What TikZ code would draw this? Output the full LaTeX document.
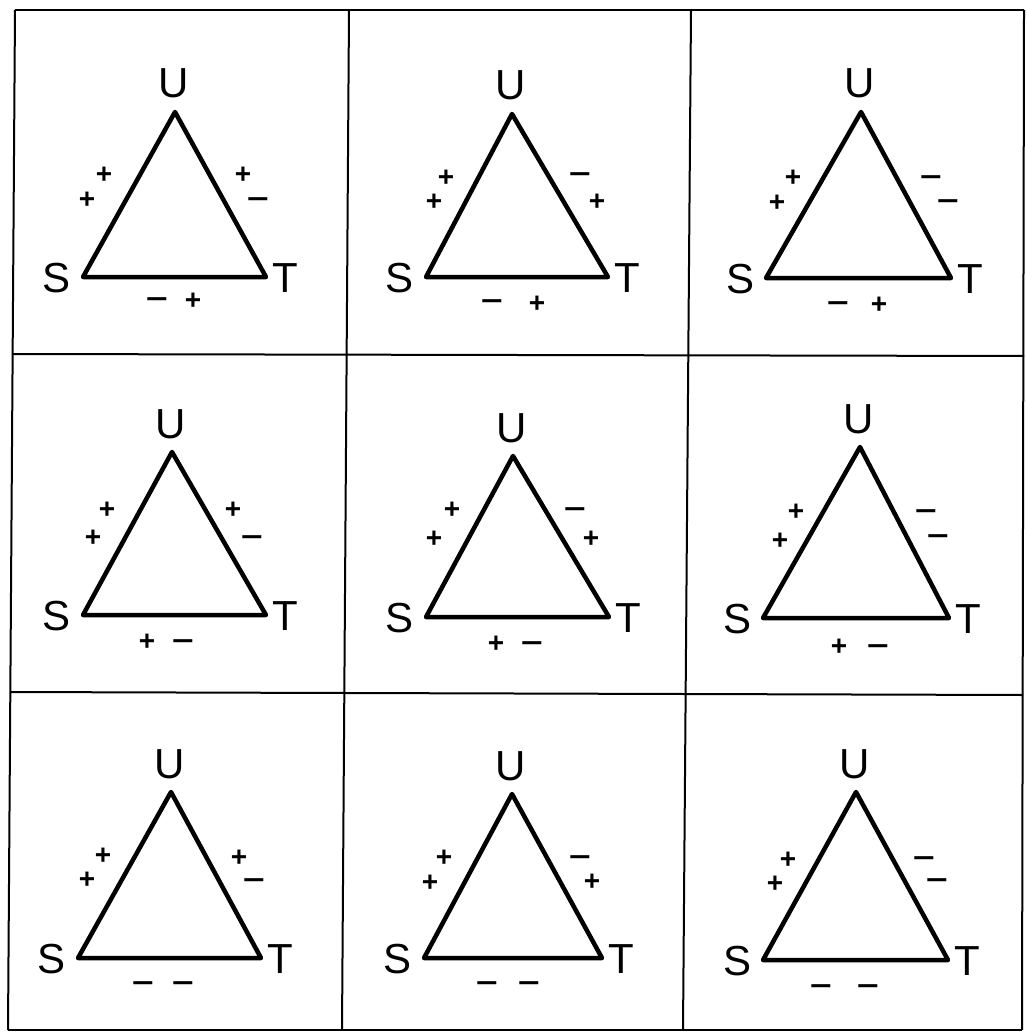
\documentclass[tikz,border=0pt]{standalone}
\usepackage{fontspec}
\setmainfont{Liberation Sans}
\usetikzlibrary{calc}
\newcommand\mns{\scalebox{1.35}[1]{−}}
\tikzset{
  grid/.style={line width=2pt, black},
  tri/.style={line width=4.5pt, line join=round, black},
  lab/.style={font=\fontsize{42}{42}\selectfont, inner sep=0pt, anchor=base, yshift=-15pt},
  sgn/.style={font=\fontsize{28}{28}\selectfont\bfseries, inner sep=0pt, anchor=base, yshift=-10pt}
}
\newcommand\tri[4]{%
  \coordinate (#1S) at #2;
  \coordinate (#1U) at #3;
  \coordinate (#1T) at #4;
  \draw[tri] (#1S) -- (#1U) -- (#1T) -- cycle;
  \node[lab] (#1ls) at ($(#1S)+(-26,0)$) {S};
  \node[lab] (#1lt) at ($(#1T)+(19,0)$) {T};
  \node[lab] (#1lu) at ($(#1U)+(-1,-29)$) {U};
}
\begin{document}
\begin{tikzpicture}[x=1pt,y=-1pt]
\useasboundingbox (0,0) rectangle (1026,1032);
\fill[white] (0,0) rectangle (1026,1032);
% grid
\draw[grid] (15,10) -- (1024,10);
\draw[grid] (13,354) -- (1024,356);
\draw[grid] (10,692) -- (1023,695);
\draw[grid] (8,1030) -- (1022,1030);
\draw[grid] (15,10) -- (8,1030);
\draw[grid] (349,10) -- (342,1030);
\draw[grid] (691,10) -- (683,1030);
\draw[grid] (1024,10) -- (1022,1030);
% cell 1
\tri{a}{(83,277)}{(175,112)}{(266,277)}
\node[sgn] (al1) at (104,174) {+};
\node[sgn] (al2) at (87,199) {+};
\node[sgn] (ar1) at (243,174) {+};
\node[sgn] (ar2) at (258,199) {\mns};
\node[sgn] (ab1) at (157,298) {\mns};
\node[sgn] (ab2) at (193,299) {+};
% cell 2
\tri{b}{(426,277)}{(512,114)}{(608,277)}
\node[sgn] (bl1) at (446,177) {+};
\node[sgn] (bl2) at (434,201) {+};
\node[sgn] (br1) at (580,174) {\mns};
\node[sgn] (br2) at (597,201) {+};
\node[sgn] (bb1) at (492,300) {\mns};
\node[sgn] (bb2) at (537,302) {+};
% cell 3
\tri{c}{(766,278)}{(861,112)}{(951,278)}
\node[sgn] (cl1) at (793,177) {+};
\node[sgn] (cl2) at (777,202) {+};
\node[sgn] (cr1) at (931,177) {\mns};
\node[sgn] (cr2) at (948,201) {\mns};
\node[sgn] (cb1) at (838,302) {\mns};
\node[sgn] (cb2) at (879,303) {+};
% cell 4
\tri{d}{(83,615)}{(172,452)}{(266,615)}
\node[sgn] (dl1) at (107,508) {+};
\node[sgn] (dl2) at (93,536) {+};
\node[sgn] (dr1) at (233,508) {+};
\node[sgn] (dr2) at (252,536) {\mns};
\node[sgn] (db1) at (147,640) {+};
\node[sgn] (db2) at (183,640) {\mns};
% cell 5
\tri{e}{(426,617)}{(513,456)}{(609,617)}
\node[sgn] (el1) at (452,508) {+};
\node[sgn] (el2) at (434,537) {+};
\node[sgn] (er1) at (575,508) {\mns};
\node[sgn] (er2) at (591,537) {+};
\node[sgn] (eb1) at (496,642) {+};
\node[sgn] (eb2) at (532,642) {\mns};
% cell 6
\tri{f}{(763,618)}{(860,447)}{(949,618)}
\node[sgn] (fl1) at (796,510) {+};
\node[sgn] (fl2) at (780,539) {+};
\node[sgn] (fr1) at (926,510) {\mns};
\node[sgn] (fr2) at (938,535) {\mns};
\node[sgn] (fb1) at (839,645) {+};
\node[sgn] (fb2) at (878,645) {\mns};
% cell 7
\tri{g}{(78,958)}{(171,792)}{(261,958)}
\node[sgn] (gl1) at (103,854) {+};
\node[sgn] (gl2) at (87,878) {+};
\node[sgn] (gr1) at (239,856) {+};
\node[sgn] (gr2) at (254,879) {\mns};
\node[sgn] (gb1) at (143,982) {\mns};
\node[sgn] (gb2) at (183,982) {\mns};
% cell 8
\tri{h}{(424,958)}{(512,794)}{(602,958)}
\node[sgn] (hl1) at (444,856) {+};
\node[sgn] (hl2) at (430,881) {+};
\node[sgn] (hr1) at (580,856) {\mns};
\node[sgn] (hr2) at (592,880) {+};
\node[sgn] (hb1) at (487,982) {\mns};
\node[sgn] (hb2) at (529,982) {\mns};
% cell 9
\tri{i}{(763,960)}{(856,792)}{(948,960)}
\node[sgn] (il1) at (788,858) {+};
\node[sgn] (il2) at (775,882) {+};
\node[sgn] (ir1) at (924,857) {\mns};
\node[sgn] (ir2) at (937,879) {\mns};
\node[sgn] (ib1) at (821,985) {\mns};
\node[sgn] (ib2) at (868,985) {\mns};
\end{tikzpicture}
\end{document}
